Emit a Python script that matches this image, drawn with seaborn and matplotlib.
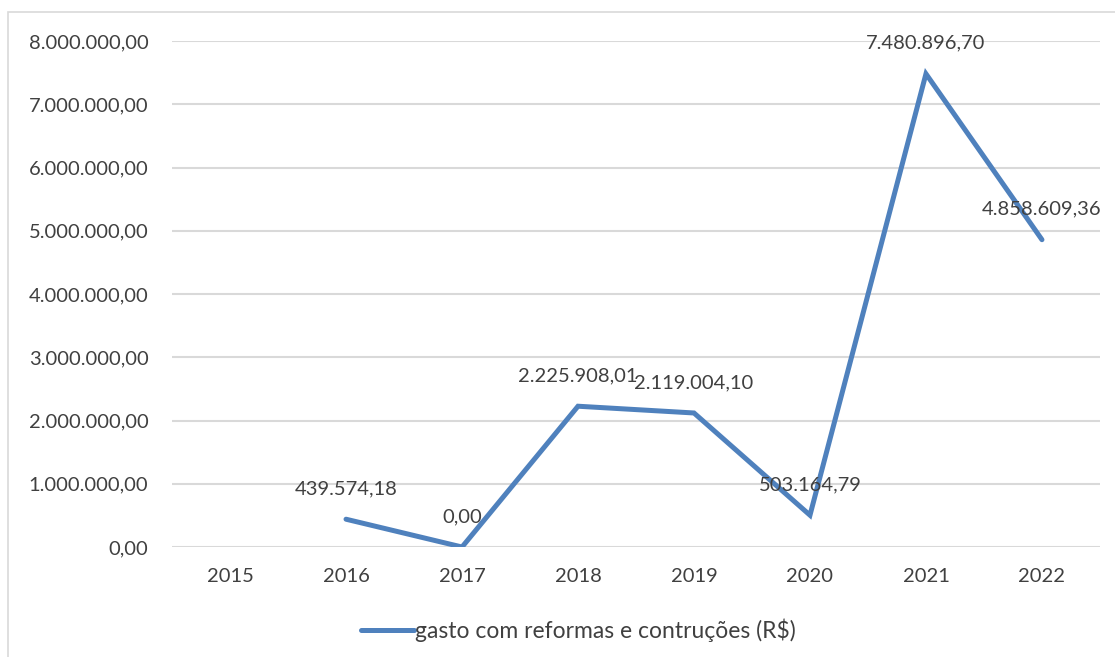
import numpy as np
import pandas as pd
import matplotlib.pyplot as plt
import seaborn as sns
from matplotlib.patches import Rectangle
from matplotlib.lines import Line2D

anos = ["2015", "2016", "2017", "2018", "2019", "2020", "2021", "2022"]
gastos = [np.nan, 439574.18, 0.00, 2225908.01, 2119004.10, 503164.79, 7480896.70, 4858609.36]
serie = "gasto com reformas e contruções (R$)"

cor = "#4F81BD"
texto = "#404040"


def br(v):
    s = f"{v:,.2f}"
    return s.replace(",", "X").replace(".", ",").replace("X", ".")


sns.set_theme(style="white")
plt.rcParams["font.family"] = ["Lato", "DejaVu Sans"]

df = pd.DataFrame({"ano": anos, "valor": gastos})

fig = plt.figure(figsize=(11.15, 6.57), dpi=100)
ax = fig.add_axes([0.1543, 0.1674, 0.8322, 0.7702])

# moldura do gráfico
fig.patches.append(Rectangle((8 / 1115, -0.05), 1.2, 1 - 12 / 657 + 0.05,
                             transform=fig.transFigure, fill=False,
                             edgecolor="#d9d9d9", linewidth=1.2))

x = np.arange(len(anos))
sns.lineplot(x=x, y=df["valor"], ax=ax, color=cor, linewidth=3.6,
             solid_capstyle="round", solid_joinstyle="miter")

for xi, v in zip(x, gastos):
    if np.isnan(v):
        continue
    ax.annotate(br(v), (xi, v), xytext=(0, 22), textcoords="offset points",
                ha="center", va="center", fontsize=14.5, color=texto)

ax.set_xlim(-0.5, len(anos) - 0.5)
ax.set_ylim(0, 8000000)
ax.set_xticks(x)
ax.set_xticklabels(anos)
ax.set_yticks(np.arange(0, 8000001, 1000000))
ax.set_yticklabels([br(t) for t in np.arange(0, 8000001, 1000000)])
ax.tick_params(axis="both", length=0, labelsize=14.5, labelcolor=texto)
ax.tick_params(axis="y", pad=17)
ax.tick_params(axis="x", pad=15)
ax.yaxis.grid(True, color="#d9d9d9", linewidth=1.5)
ax.set_axisbelow(True)
for s in ax.spines.values():
    s.set_visible(False)
ax.set_xlabel("")
ax.set_ylabel("")

handle = Line2D([0], [0], color=cor, linewidth=3.6, solid_capstyle="round")
fig.legend([handle], [serie], loc="center", bbox_to_anchor=(0.519, 0.041),
           frameon=False, fontsize=16.5, labelcolor=texto, handlelength=2.3,
           handletextpad=0.05)

fig.savefig("out.png", dpi=100)
